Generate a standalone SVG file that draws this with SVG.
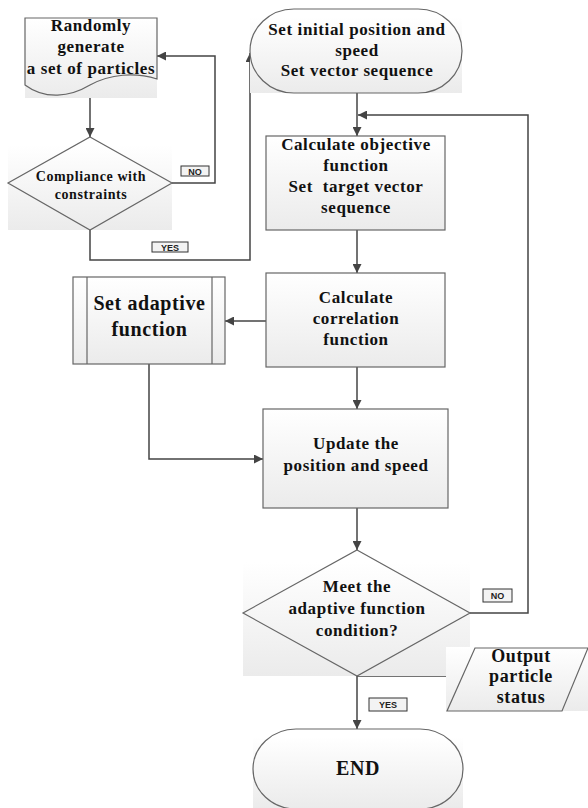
<svg xmlns="http://www.w3.org/2000/svg" width="588" height="808" viewBox="0 0 588 808">
<defs>
<linearGradient id="g" x1="0" y1="0" x2="0" y2="1">
<stop offset="0" stop-color="#ffffff"/>
<stop offset="1" stop-color="#ebebeb"/>
</linearGradient>
<marker id="ah" markerWidth="9" markerHeight="9" refX="9" refY="4.5" orient="auto" markerUnits="userSpaceOnUse">
<path d="M0,0 L9,4.5 L0,9 Z" fill="#444"/>
</marker>
<style>
.bg{fill:url(#g);stroke:none}
.sh{fill:none;stroke:#666;stroke-width:1.2}
.bx{fill:url(#g);stroke:#666;stroke-width:1.2}
.t{font-family:'Liberation Serif','DejaVu Serif',serif;font-weight:bold;fill:#111;text-anchor:middle;letter-spacing:0.6px}
.cn{fill:none;stroke:#444;stroke-width:1.5}
.lb{fill:#f3f3f3;stroke:#333;stroke-width:1}
.lt{font-family:'Liberation Sans','DejaVu Sans',sans-serif;font-weight:bold;font-size:9px;fill:#222;text-anchor:middle}
</style>
</defs>
<rect width="588" height="808" fill="#fff"/>

<g id="connectors">
<path class="cn" d="M90,86 V137" marker-end="url(#ah)"/>
<path class="cn" d="M172,183 H215 V56 H157" marker-end="url(#ah)"/>
<path class="cn" d="M90,230 V260 H250 V53" marker-end="url(#ah)"/>
<path class="cn" d="M357,93 V136" marker-end="url(#ah)"/>
<path class="cn" d="M357,230 V273" marker-end="url(#ah)"/>
<path class="cn" d="M266,321 H225" marker-end="url(#ah)"/>
<path class="cn" d="M357,367 V409" marker-end="url(#ah)"/>
<path class="cn" d="M149,364 V459 H263" marker-end="url(#ah)"/>
<path class="cn" d="M357,508 V550" marker-end="url(#ah)"/>
<path class="cn" d="M470,613 H528 V115 H358" marker-end="url(#ah)"/>
<path class="cn" d="M357,676 H462" marker-end="url(#ah)"/>
<path class="cn" d="M357,676 V729" marker-end="url(#ah)"/>
<g id="label-no-1"><rect class="lb" x="181" y="166" width="28" height="10"/><text class="lt" x="195" y="174.5">NO</text></g>
<g id="label-yes-1"><rect class="lb" x="152" y="242" width="36" height="10"/><text class="lt" x="170" y="250.5">YES</text></g>
<g id="label-no-2"><rect class="lb" x="483" y="589" width="29" height="13"/><text class="lt" x="497.5" y="599">NO</text></g>
<g id="label-yes-2"><rect class="lb" x="369" y="698" width="38" height="13"/><text class="lt" x="388" y="708">YES</text></g>
</g>

<g font-family="Liberation Serif, DejaVu Serif, serif">
<g id="generate">
<rect class="bg" x="25" y="18" width="132" height="80"/>
<path class="sh" d="M25,18 H157 V79 C135,72 110,74 90,85 C70,97 45,100 25,85 Z"/>
<text class="t" font-size="17" x="91" y="31">Randomly</text>
<text class="t" font-size="17" x="91" y="52">generate</text>
<text class="t" font-size="17" x="91" y="74">a set of particles</text>
</g>

<g id="compliance">
<rect class="bg" x="8" y="145" width="164" height="85"/>
<path class="sh" d="M90,137 L172,183 L90,230 L8,183 Z"/>
<text class="t" font-size="14" x="91" y="181">Compliance with</text>
<text class="t" font-size="14" x="91" y="199">constraints</text>
</g>

<g id="init">
<rect class="bg" x="250" y="17" width="212" height="76"/>
<path class="sh" d="M294,9 H418 A44,42 0 0 1 418,93 H294 A44,42 0 0 1 294,9 Z"/>
<text class="t" font-size="17" x="357" y="35">Set initial position and</text>
<text class="t" font-size="17" x="357" y="56">speed</text>
<text class="t" font-size="17" x="357" y="76">Set vector sequence</text>
</g>

<g id="objective">
<rect class="bx" x="266" y="136" width="179" height="94"/>
<text class="t" font-size="17" x="356" y="150">Calculate objective</text>
<text class="t" font-size="17" x="356" y="171">function</text>
<text class="t" font-size="17" x="356" y="192" style="white-space:pre">Set  target vector</text>
<text class="t" font-size="17" x="356" y="213">sequence</text>
</g>

<g id="correlation">
<rect class="bx" x="266" y="273" width="179" height="94"/>
<text class="t" font-size="17" x="356" y="303">Calculate</text>
<text class="t" font-size="17" x="356" y="324">correlation</text>
<text class="t" font-size="17" x="356" y="345">function</text>
</g>

<g id="adaptive">
<rect class="bx" x="73" y="277" width="152" height="87"/>
<line class="sh" x1="87" y1="277" x2="87" y2="364"/>
<line class="sh" x1="212" y1="277" x2="212" y2="364"/>
<text class="t" font-size="20" x="149.5" y="310">Set adaptive</text>
<text class="t" font-size="20" x="149.5" y="336">function</text>
</g>

<g id="update">
<rect class="bx" x="263" y="409" width="185" height="99"/>
<text class="t" font-size="17" x="356" y="449">Update the</text>
<text class="t" font-size="17" x="356" y="471">position and speed</text>
</g>

<g id="condition">
<rect class="bg" x="243" y="562" width="227" height="114"/>
<path class="sh" d="M357,550 L470,613 L357,676 L243,613 Z"/>
<text class="t" font-size="17" x="357" y="592">Meet the</text>
<text class="t" font-size="17" x="357" y="614">adaptive function</text>
<text class="t" font-size="17" x="357" y="636">condition?</text>
</g>

<g id="output">
<rect class="bg" x="446" y="647" width="142" height="64"/>
<path class="sh" d="M475,648 H588 L562,711 H447 Z"/>
<text class="t" font-size="18" x="521" y="662">Output</text>
<text class="t" font-size="18" x="521" y="682">particle</text>
<text class="t" font-size="18" x="521" y="703">status</text>
</g>

<g id="end">
<rect class="bg" x="253" y="737" width="210" height="71"/>
<path class="sh" d="M296,729 H420 A43,40 0 0 1 420,809 H296 A43,40 0 0 1 296,729 Z"/>
<text class="t" font-size="20" x="358" y="775">END</text>
</g>
</g>
</svg>
